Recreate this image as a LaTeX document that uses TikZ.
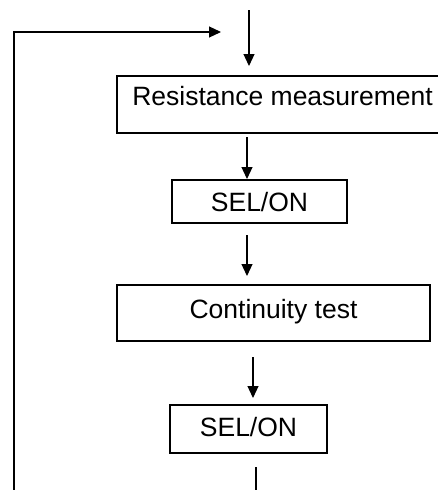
\documentclass[tikz,border=0pt]{standalone}
\usepackage{fontspec}
\setmainfont{Liberation Sans}
\usetikzlibrary{arrows.meta, positioning}
\tikzset{
    stepBox/.style={draw, rectangle, inner sep=0pt, line width=1.2pt, font=\fontsize{26.5}{31}\selectfont},
    flowEdge/.style={-{Triangle[length=12pt, width=11pt]}, line width=1.2pt},
    flowLine/.style={line width=1.2pt},
}
\newcommand{\drawFlow}[3][flowEdge]{
    \draw[#1] (#2) -- (#3);
}
\begin{document}
\begin{tikzpicture}[x=1pt, y=-1pt]
        \useasboundingbox (0,0) rectangle (438,490);

        % boxes
        \node[stepBox, minimum width=331pt, text height=29pt, text depth=28pt] (res) at (282.5, 104.5) {Resistance measurement};
        \node[stepBox, minimum width=175pt, text height=31.7pt, text depth=11.3pt] (sel1) at (259.5, 201.5) {SEL/ON};
        \node[stepBox, minimum width=313pt, text height=33pt, text depth=23pt] (cont) at (273.5, 313) {Continuity test};
        \node[stepBox, minimum width=157pt, text height=31.7pt, text depth=16.3pt] (sel2) at (248.5, 429) {SEL/ON};

        % arrow ends
        \coordinate (inTop) at (249, 10);
        \coordinate (inTip) at (249, 66);
        \coordinate (a1) at (247, 137);
        \coordinate (a1Tip) at (247, 179);
        \coordinate (a2) at (247, 235);
        \coordinate (a2Tip) at (247, 276);
        \coordinate (a3) at (253, 357);
        \coordinate (a3Tip) at (253, 398);
        \coordinate (outTop) at (256, 467);
        \coordinate (outEnd) at (256, 490);
        \coordinate (loopStart) at (14, 490);
        \coordinate (loopCorner) at (14, 32);
        \coordinate (loopTip) at (221, 32);

        \drawFlow{inTop}{inTip}
        \drawFlow{a1}{a1Tip}
        \drawFlow{a2}{a2Tip}
        \drawFlow{a3}{a3Tip}
        \drawFlow[flowLine]{outTop}{outEnd}
        \draw[flowEdge] (loopStart) -- (loopCorner) -- (loopTip);

\end{tikzpicture}
\end{document}
